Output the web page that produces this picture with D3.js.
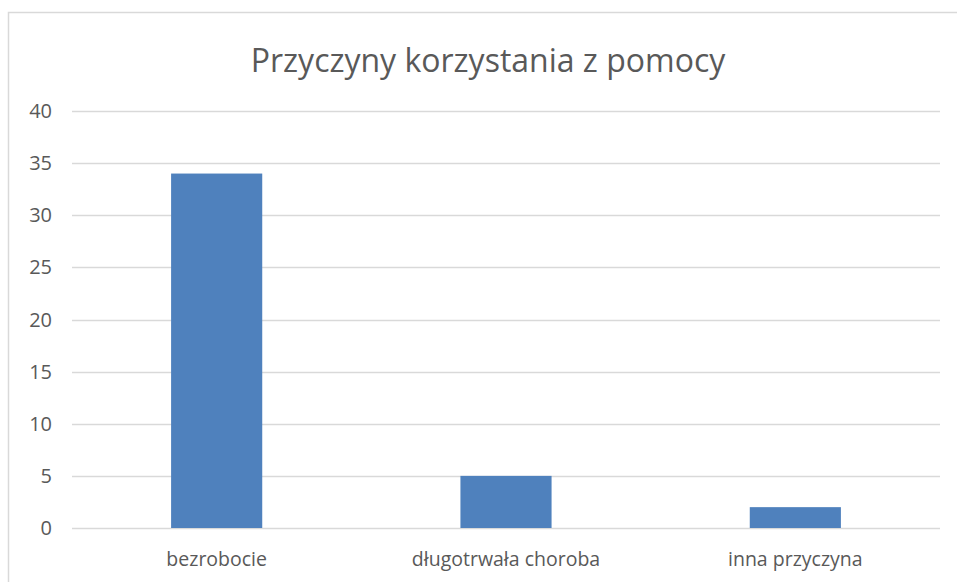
<!DOCTYPE html>
<html>
<head>
<meta charset="utf-8">
<script src="https://cdn.jsdelivr.net/npm/d3@7"></script>
<style>
body{margin:0;background:#fff}
text{font-family:"Open Sans",sans-serif;fill:#595959}
</style>
</head>
<body>
<div id="chart"></div>
<script>
const categories=["bezrobocie","długotrwała choroba","inna przyczyna"]
const values=[34,5,2]
const yTicks=[0,5,10,15,20,25,30,35,40]
const title="Przyczyny korzystania z pomocy"

const width=957
const height=582
const margin={left:72,right:17,top:111,bottom:54}

const svg=d3.select("#chart")
.append("svg")
.attr("width",width)
.attr("height",height)

// chart frame (runs past the window on the right and bottom)
svg.append("rect")
.attr("x",8.5)
.attr("y",12.5)
.attr("width",width+20)
.attr("height",height+20)
.attr("fill","none")
.attr("stroke","#d9d9d9")
.attr("stroke-width",1.5)

const x=d3.scaleBand()
.domain(categories)
.range([margin.left,width-margin.right])
.padding(0)

const y=d3.scaleLinear()
.domain([0,40])
.range([height-margin.bottom,margin.top])

const barW=x.bandwidth()*0.315

svg.append("g")
.selectAll("line")
.data(yTicks)
.enter()
.append("line")
.attr("x1",margin.left)
.attr("x2",width-margin.right)
.attr("y1",d=>Math.round(y(d))+0.5)
.attr("y2",d=>Math.round(y(d))+0.5)
.attr("stroke","#d9d9d9")
.attr("stroke-width",1.5)

svg.append("g")
.selectAll("text")
.data(yTicks)
.enter()
.append("text")
.attr("x",52)
.attr("y",d=>y(d)+7)
.attr("text-anchor","end")
.attr("font-size",20)
.text(d=>d)

svg.append("g")
.selectAll("rect")
.data(values)
.enter()
.append("rect")
.attr("x",(d,i)=>x(categories[i])+(x.bandwidth()-barW)/2)
.attr("y",d=>y(d))
.attr("width",barW)
.attr("height",d=>y(0)-y(d))
.attr("fill","#4f81bd")

svg.append("g")
.selectAll("text")
.data(categories)
.enter()
.append("text")
.attr("x",d=>x(d)+x.bandwidth()/2)
.attr("y",566)
.attr("text-anchor","middle")
.attr("font-size",19.5)
.text(d=>d)

svg.append("text")
.attr("x",488)
.attr("y",72)
.attr("text-anchor","middle")
.attr("font-size",32)
.text(title)
</script>
</body>
</html>
